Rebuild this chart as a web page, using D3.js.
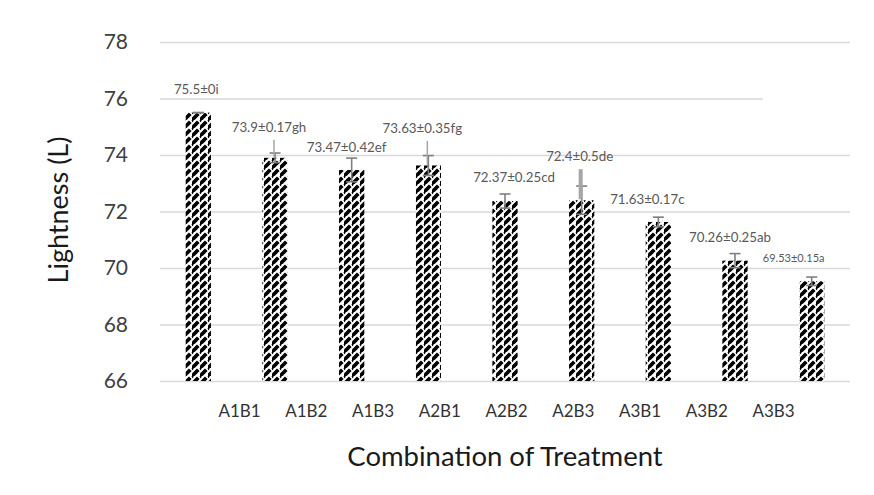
<!DOCTYPE html>
<html>
<head>
<meta charset="utf-8">
<script src="https://cdn.jsdelivr.net/npm/d3@7"></script>
<style>
  html, body { margin: 0; padding: 0; background: #fff; }
  svg { display: block; }
  text { font-family: Lato, "Open Sans", sans-serif; }
</style>
</head>
<body>
<svg id="chart" width="874" height="495"></svg>
<script>
// Treatment combinations and their lightness means, SDs and significance letters
const categories = ["A1B1", "A1B2", "A1B3", "A2B1", "A2B2", "A2B3", "A3B1", "A3B2", "A3B3"];
const means = [75.5, 73.9, 73.47, 73.63, 72.37, 72.4, 71.63, 70.26, 69.53];
const sds = [0, 0.17, 0.42, 0.35, 0.25, 0.5, 0.17, 0.25, 0.15];
const letters = ["i", "gh", "ef", "fg", "cd", "de", "c", "ab", "a"];
const yTicks = [66, 68, 70, 72, 74, 76, 78];

// Data label placement relative to each bar top: [dx, rise, fontSize, leader line]
const labelLayout = [
  [-2, 18.5, 13.3, false],
  [-6, 26, 13.3, true],
  [-5, 18, 13.3, false],
  [-6, 32.5, 13.3, true],
  [9, 19, 13.3, false],
  [-2, 39, 13.3, true],
  [-11, 18, 13.3, false],
  [-5, 18.5, 13.3, false],
  [-18, 19, 11, false]
];

const svg = d3.select("#chart");
const plot = { left: 160, right: 850, top: 42, bottom: 381 };

const x = d3.scaleBand().domain(categories).range([plot.left, plot.right]).padding(0);
const xLabel = d3.scalePoint().domain(categories).range([239, 773]);
const y = d3.scaleLinear().domain([66, 78]).range([plot.bottom, plot.top]);
const barW = x.bandwidth() * 0.33;

// Dashed upward-diagonal fill used by the bars
const defs = svg.append("defs");
const pat = defs.append("pattern")
  .attr("id", "diag")
  .attr("patternUnits", "userSpaceOnUse")
  .attr("width", 8).attr("height", 8);
pat.append("rect").attr("width", 8).attr("height", 8).attr("fill", "#fff");
pat.append("path")
  .attr("d", "M-1,9 L6.3,1.7 M7.6,0.4 L9,-1 M-1,1 L0.6,-0.6")
  .attr("stroke", "#000").attr("stroke-width", 3.7).attr("stroke-linecap", "butt");

// Horizontal gridlines
const grid = d3.axisLeft(y).tickValues(yTicks).tickSize(-(plot.right - plot.left)).tickFormat("");
svg.append("g")
  .attr("transform", `translate(${plot.left},0)`)
  .call(grid)
  .call(g => g.select(".domain").remove())
  .call(g => g.selectAll("line").attr("stroke", "#d9d9d9").attr("stroke-width", 1.6));

// The 76 gridline is clipped by a blank box on the right
svg.append("rect")
  .attr("x", 763).attr("y", y(76) - 3)
  .attr("width", plot.right - 763 + 4).attr("height", 6)
  .attr("fill", "#fff");

// Y tick labels
const yAxis = d3.axisLeft(y).tickValues(yTicks).tickSize(0).tickPadding(0).tickFormat(d3.format("d"));
svg.append("g")
  .attr("transform", "translate(128,0)")
  .call(yAxis)
  .call(g => g.select(".domain").remove())
  .call(g => g.selectAll("text")
    .attr("font-size", 21).attr("fill", "#404040")
    .attr("font-family", "Lato, 'Open Sans', sans-serif"));

// Bars
svg.append("g").selectAll("rect")
  .data(means)
  .join("rect")
  .attr("x", (d, i) => x(categories[i]) + x.bandwidth() / 2 - barW / 2)
  .attr("width", barW)
  .attr("y", d => y(d))
  .attr("height", d => y(66) - y(d))
  .attr("fill", "url(#diag)");

// Error bars
const eb = svg.append("g").attr("stroke", "#7f7f7f").attr("stroke-width", 1.6);
means.forEach((m, i) => {
  const cx = x(categories[i]) + x.bandwidth() / 2;
  const hi = y(m + sds[i]), lo = y(m - sds[i]);
  eb.append("line").attr("x1", cx).attr("x2", cx).attr("y1", hi).attr("y2", lo);
  eb.append("line").attr("x1", cx - 5.5).attr("x2", cx + 5.5).attr("y1", hi).attr("y2", hi);
  eb.append("line").attr("x1", cx - 5.5).attr("x2", cx + 5.5).attr("y1", lo).attr("y2", lo);
});

// Data labels with leader lines where moved away from the bar
const lab = svg.append("g");
means.forEach((m, i) => {
  const [dx, rise, fs, leader] = labelLayout[i];
  const cx = x(categories[i]) + x.bandwidth() / 2;
  const top = y(m);
  const ty = top - rise;
  if (leader) {
    lab.append("line")
      .attr("x1", cx - 1).attr("x2", cx - 1)
      .attr("y1", ty + 8).attr("y2", top - 1)
      .attr("stroke", "#a6a6a6")
      .attr("stroke-width", i === 5 ? 4 : 1.5);
  }
  lab.append("text")
    .attr("x", cx + dx).attr("y", ty)
    .attr("text-anchor", "middle")
    .attr("font-size", fs).attr("fill", "#595959")
    .text(`${m}±${sds[i]}${letters[i]}`);
});

// Category labels
svg.append("g")
  .attr("transform", "translate(0,417)")
  .call(d3.axisBottom(xLabel).tickSize(0).tickPadding(0))
  .call(g => g.select(".domain").remove())
  .call(g => g.selectAll("text")
    .attr("dy", 0).attr("font-size", 17).attr("fill", "#333")
    .attr("font-family", "Lato, 'Open Sans', sans-serif"));

// Axis titles
svg.append("text")
  .attr("x", 505).attr("y", 466)
  .attr("text-anchor", "middle")
  .attr("font-size", 27.5).attr("fill", "#1a1a1a")
  .text("Combination of Treatment");

svg.append("text")
  .attr("transform", "translate(68,210) rotate(-90)")
  .attr("text-anchor", "middle")
  .attr("font-size", 27).attr("fill", "#1a1a1a")
  .text("Lightness (L)");
</script>
</body>
</html>
